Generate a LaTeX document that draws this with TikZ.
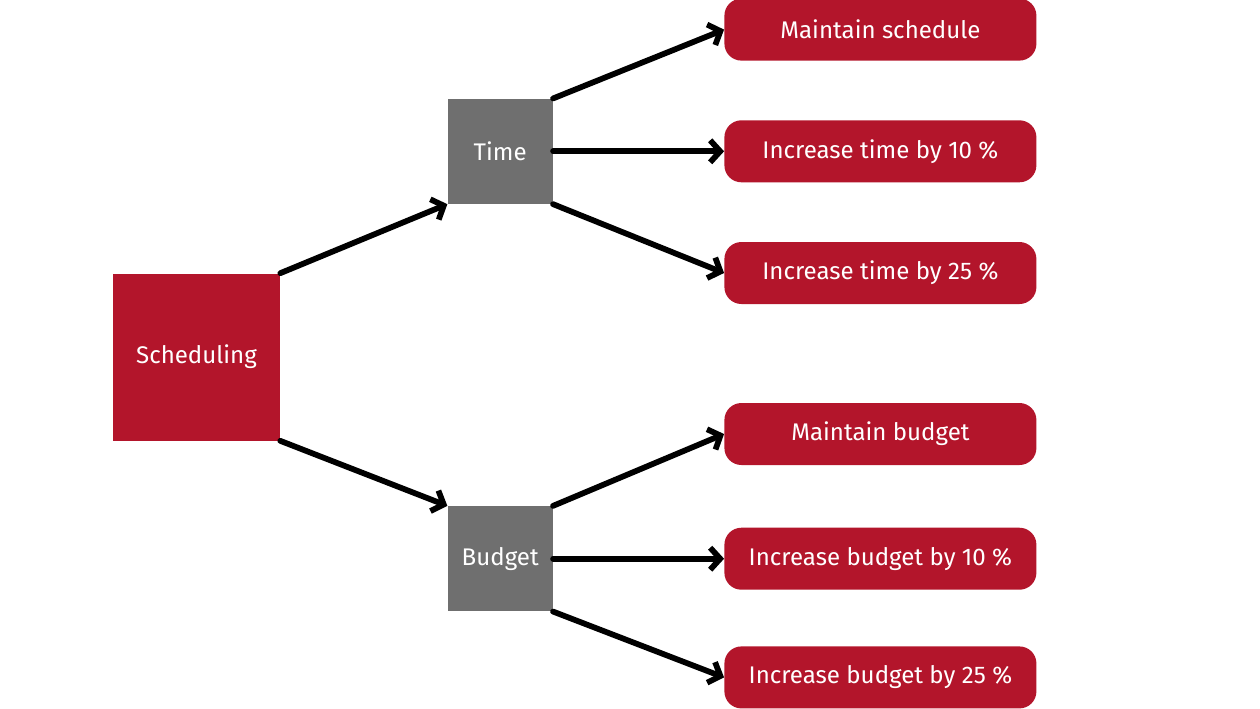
\documentclass[tikz,border=0pt]{standalone}
\usepackage{fontspec}
\setmainfont{Fira Sans}
\usetikzlibrary{positioning, arrows.meta}

\definecolor{crimson}{HTML}{B3152B}
\definecolor{slate}{HTML}{6F6F6F}

\begin{document}
\begin{tikzpicture}[
    font=\fontsize{13.7}{16}\selectfont,
    root/.style={rectangle, fill=crimson, text=white, minimum size=3.34cm, inner sep=0pt},
    factor/.style={rectangle, fill=slate, text=white, minimum size=2.1cm, inner sep=0pt},
    option/.style={rectangle, fill=crimson, text=white, rounded corners=0.34cm, minimum width=6.24cm, minimum height=1.24cm, inner sep=0pt},
    link/.style={-{Straight Barb[length=0.2cm, width=0.44cm]}, line width=0.115cm, line cap=round, line join=round},
]

% Canvas
\useasboundingbox (0,0) rectangle (25.2,-14.16);

% Nodes
\node [root] (sched) at (3.93,-7.14) {Scheduling};
\node [factor, above right=1.38cm and 3.34cm of sched] (time) {Time};
\node [factor, below right=1.3cm and 3.34cm of sched] (budget) {Budget};

\node [option, right=3.42cm of time] (time10) {Increase time by 10 \%};
\node [option, above=1.18cm of time10] (keeptime) {Maintain schedule};
\node [option, below=1.18cm of time10] (time25) {Increase time by 25 \%};

\node [option, right=3.42cm of budget] (budget10) {Increase budget by 10 \%};
\node [option, above=1.24cm of budget10] (keepbudget) {Maintain budget};
\node [option, below=1.12cm of budget10] (budget25) {Increase budget by 25 \%};

% Lines
\draw [link] (sched.north east) -- (time.south west);
\draw [link] (sched.south east) -- (budget.north west);
\draw [link] (time.north east) -- (keeptime.west);
\draw [link] (time.east) -- (time10.west);
\draw [link] (time.south east) -- (time25.west);
\draw [link] (budget.north east) -- (keepbudget.west);
\draw [link] (budget.east) -- (budget10.west);
\draw [link] (budget.south east) -- (budget25.west);

\end{tikzpicture}
\end{document}
